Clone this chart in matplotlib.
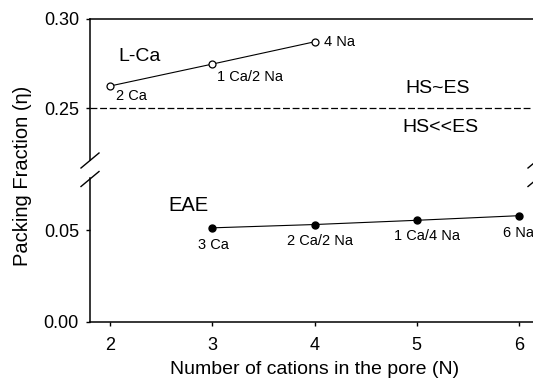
import matplotlib
matplotlib.use("Agg")
import matplotlib.pyplot as plt
from matplotlib.lines import Line2D

plt.rcParams["font.family"] = ["Liberation Sans", "DejaVu Sans"]

# data
n_lca = [2, 3, 4]
eta_lca = [0.2624, 0.2747, 0.2872]
labels_lca = ["2 Ca", "1 Ca/2 Na", "4 Na"]

n_eae = [3, 4, 5, 6]
eta_eae = [0.0512, 0.0530, 0.0553, 0.0578]
labels_eae = ["3 Ca", "2 Ca/2 Na", "1 Ca/4 Na", "6 Na"]

hs_limit = 0.25
xticks = [2, 3, 4, 5, 6]

W, H = 533, 383
fig = plt.figure(figsize=(W / 100, H / 100), dpi=100)

left, right = 90 / W, 1.0
ax_top = fig.add_axes([left, 1 - 160 / H, right - left, (160 - 19) / H])
ax_bot = fig.add_axes([left, 1 - 322 / H, right - left, (322 - 178) / H])

for ax in (ax_top, ax_bot):
    ax.set_xlim(1.8, 6.14)
    ax.spines["right"].set_visible(False)
    for s in ax.spines.values():
        s.set_linewidth(1.1)
    ax.tick_params(direction="out", length=3, width=1, labelsize=13, pad=5)

ax_top.set_ylim(0.2208, 0.30)
ax_top.spines["bottom"].set_visible(False)
ax_top.set_yticks([0.25, 0.30])
ax_top.set_yticklabels(["0.25", "0.30"])
ax_top.set_xticks([])

ax_bot.set_ylim(0.0, 0.0783)
ax_bot.spines["top"].set_visible(False)
ax_bot.set_yticks([0.00, 0.05])
ax_bot.set_yticklabels(["0.00", "0.05"])
ax_bot.set_xticks(xticks)
ax_bot.tick_params(axis="x", pad=8)

# L-Ca series
ax_top.plot(n_lca, eta_lca, color="black", lw=0.8, marker="o", ms=5,
            mfc="white", mec="black", mew=0.9)
lca_offsets = [(4.3, -7.2), (3.6, -9.4), (6.5, 0)]
for x, y, t, off in zip(n_lca, eta_lca, labels_lca, lca_offsets):
    ax_top.annotate(t, (x, y), xytext=off, textcoords="offset points",
                    ha="left", va="center", fontsize=10.5)

ax_top.axhline(hs_limit, color="black", lw=0.9, ls=(0, (5.5, 2.2)))
ax_top.text(2.08, 0.279, "L-Ca", fontsize=14, ha="left", va="center")
ax_top.text(5.21, 0.2612, "HS~ES", fontsize=14, ha="center", va="center")
ax_top.text(5.23, 0.2393, "HS<<ES", fontsize=14, ha="center", va="center")

# EAE series
ax_bot.plot(n_eae, eta_eae, color="black", lw=0.8, marker="o", ms=5,
            mfc="black", mec="black")
eae_offsets = [(0.7, -12.2), (3.6, -12.2), (7.2, -11.5), (0, -12.2)]
for x, y, t, off in zip(n_eae, eta_eae, labels_eae, eae_offsets):
    ax_bot.annotate(t, (x, y), xytext=off, textcoords="offset points",
                    ha="center", va="center", fontsize=10.5)
ax_bot.text(2.76, 0.0636, "EAE", fontsize=14.5, ha="center", va="center")

fig.text(315 / W, 1 - 370 / H, "Number of cations in the pore (N)",
         ha="center", va="center", fontsize=14)
fig.text(23 / W, 1 - 176 / H, "Packing Fraction (\u03b7)", rotation=90,
         ha="center", va="center", fontsize=14.5)

# axis break marks
for cx in (90, 537):
    for cy in (160.5, 179):
        fig.add_artist(Line2D([(cx - 9) / W, (cx + 9) / W],
                              [1 - (cy + 7.5) / H, 1 - (cy - 7.5) / H],
                              transform=fig.transFigure, color="black", lw=1))

fig.savefig("out.png", dpi=100)
